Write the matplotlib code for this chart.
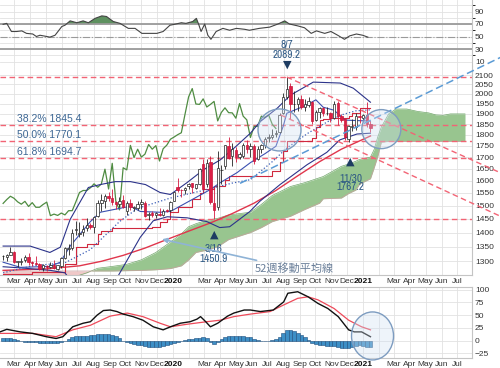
import matplotlib
matplotlib.use("Agg")
import numpy as np
import pandas as pd
import matplotlib.pyplot as plt
import matplotlib.dates as mdates
import matplotlib.transforms as mtransforms
from matplotlib import font_manager
from matplotlib.font_manager import FontProperties
from matplotlib.patches import Ellipse
from matplotlib.ticker import FixedLocator, NullLocator, FuncFormatter

plt.rcParams['font.family'] = ['Liberation Sans', 'DejaVu Sans']

# upright narrow face for the high/low call-outs, if the system has one
narrow = [f.fname for f in font_manager.fontManager.ttflist
          if 'Narrow' in f.name and f.style == 'normal' and f.weight in (400, 'normal', 'regular')
          and 'Italic' not in f.fname and 'Bold' not in f.fname]
if narrow:
    ann_font = FontProperties(fname=sorted(narrow)[0], size=8)
else:
    ann_font = FontProperties(family=['Liberation Sans', 'DejaVu Sans'], size=7.2)

# ---- weekly candles (week ending Friday) ----
weeks = pd.date_range('2019-02-08', '2021-01-15', freq='W-FRI')
opens = [1317, 1316, 1323, 1333, 1298, 1298, 1303, 1316, 1296, 1296, 1291, 1277, 1285, 1282, 1287, 1276,
         1286, 1312, 1341, 1345, 1409, 1393, 1401, 1415, 1426, 1421, 1459, 1510, 1520, 1540, 1530, 1513,
         1505, 1523, 1478, 1512, 1493, 1492, 1505, 1510, 1464, 1471, 1464, 1466, 1464, 1482, 1484,
         1520, 1573, 1561, 1560, 1578, 1590, 1572, 1586, 1670, 1587, 1678, 1511, 1496, 1643, 1660, 1748,
         1705, 1733, 1700, 1705, 1754, 1734, 1748, 1690, 1738, 1753, 1786, 1790, 1805, 1815, 1903, 1986,
         2040, 1947, 1947, 1975, 1936, 1946, 1960, 1870, 1910, 1930, 1905, 1903, 1880, 1955, 1888, 1873,
         1780, 1838, 1838, 1890, 1881, 1897, 1850]
highs = [1323, 1325, 1349, 1335, 1302, 1311, 1323, 1327, 1301, 1317, 1293, 1290, 1288, 1298, 1305, 1289,
         1313, 1348, 1358, 1411, 1442, 1440, 1427, 1453, 1435, 1460, 1523, 1546, 1546, 1555, 1566, 1519,
         1535, 1541, 1519, 1525, 1500, 1520, 1525, 1518, 1476, 1479, 1475, 1490, 1486, 1489, 1519,
         1553, 1611, 1564, 1574, 1590, 1591, 1587, 1652, 1691, 1693, 1704, 1576, 1728, 1667, 1753, 1788,
         1763, 1747, 1724, 1764, 1775, 1761, 1759, 1751, 1757, 1788, 1806, 1829, 1823, 1906, 2005, 2089.2,
         2055, 2015, 1987, 1994, 1976, 1986, 1963, 1917, 1935, 1933, 1933, 1911, 1966, 1966, 1900, 1876,
         1848, 1875, 1906, 1907, 1900, 1960, 1865]
lows = [1306, 1302, 1321, 1294, 1280, 1288, 1297, 1288, 1284, 1288, 1271, 1267, 1268, 1278, 1274, 1270,
        1277, 1309, 1322, 1337, 1391, 1384, 1387, 1404, 1413, 1400, 1456, 1480, 1492, 1520, 1504, 1486,
        1497, 1490, 1465, 1483, 1480, 1483, 1488, 1456, 1446, 1456, 1453, 1462, 1459, 1475, 1477,
        1517, 1553, 1536, 1547, 1565, 1548, 1564, 1584, 1563, 1576, 1505, 1450.9, 1484, 1588, 1650, 1690,
        1660, 1680, 1693, 1697, 1716, 1702, 1671, 1688, 1717, 1742, 1766, 1781, 1792, 1807, 1900, 1975,
        1874, 1911, 1916, 1922, 1912, 1936, 1851, 1864, 1880, 1890, 1895, 1860, 1877, 1848, 1859, 1775,
        1767.2, 1819, 1825, 1855, 1865, 1835, 1814]
closes = [1318, 1322, 1330, 1299, 1298, 1302, 1313, 1298, 1295, 1290, 1276, 1288, 1281, 1287, 1277, 1289,
          1311, 1346, 1344, 1400, 1413, 1400, 1412, 1427, 1419, 1457, 1509, 1524, 1537, 1529, 1515, 1506,
          1517, 1497, 1512, 1494, 1494, 1505, 1514, 1462, 1468, 1463, 1472, 1465, 1481, 1481, 1515,
          1552, 1560, 1560, 1571, 1587, 1573, 1586, 1648, 1566, 1673, 1516, 1484, 1654, 1645, 1752, 1698,
          1735, 1700, 1713, 1756, 1735, 1751, 1683, 1737, 1753, 1780, 1790, 1801, 1810, 1897, 1985, 2028,
          1949, 1947, 1975, 1934, 1947, 1962, 1866, 1907, 1930, 1906, 1905, 1879, 1951, 1889, 1871, 1788,
          1840, 1840, 1889, 1883, 1895, 1850, 1830]

# ---- overlay lines ----
bb_up_dates = ['2019-02-08', '2019-04-01', '2019-05-09', '2019-05-29', '2019-06-17', '2019-07-22', '2019-08-14',
               '2019-09-12', '2019-10-11', '2019-11-09', '2019-12-07', '2019-12-27', '2020-01-28', '2020-02-29',
               '2020-04-01', '2020-04-30', '2020-05-29', '2020-06-17', '2020-07-20', '2020-08-14', '2020-09-27',
               '2020-11-18', '2020-12-13', '2021-01-15']
bb_up_vals = [1352, 1352, 1330, 1348, 1448, 1572, 1584, 1596, 1596, 1584, 1552, 1544, 1592, 1646,
              1688, 1745, 1808, 1863, 1929, 1994, 2062, 2057, 2030, 1958]
bb_lo_dates = ['2019-02-08', '2019-03-15', '2019-05-10', '2019-06-07', '2019-06-28', '2019-08-16', '2019-09-01',
               '2019-09-17', '2019-10-30', '2019-11-24', '2019-12-21', '2020-01-28', '2020-03-06', '2020-03-31',
               '2020-04-19', '2020-05-28', '2020-06-16', '2020-07-25', '2020-09-15', '2020-10-23', '2020-11-17',
               '2020-12-20', '2021-01-15']
bb_lo_vals = [1282, 1278, 1270, 1262, 1215, 1190, 1200, 1251, 1383, 1443, 1458, 1454, 1440, 1418,
              1421, 1478, 1517, 1584, 1667, 1721, 1777, 1804, 1808]
ma13_dates = ['2019-02-08', '2019-04-05', '2019-06-07', '2019-07-26', '2019-09-20', '2019-10-25', '2019-12-27',
              '2020-02-28', '2020-04-24', '2020-05-29', '2020-07-10', '2020-08-07', '2020-09-18', '2020-10-23',
              '2020-11-20', '2020-12-18', '2021-01-15']
ma13_vals = [1262, 1285, 1295, 1340, 1440, 1490, 1530, 1560, 1590, 1604, 1680, 1740, 1810, 1860,
             1895, 1915, 1920]
tenkan_dates = ['2019-02-08', '2019-03-13', '2019-05-09', '2019-05-29', '2019-06-17', '2019-07-26', '2019-08-14',
                '2019-10-11', '2019-10-30', '2019-12-07', '2019-12-27', '2020-01-28', '2020-03-13', '2020-04-01',
                '2020-05-03', '2020-05-29', '2020-06-26', '2020-07-17', '2020-07-31', '2020-08-07', '2020-09-11',
                '2020-10-02', '2020-10-16', '2020-11-06', '2020-11-27', '2021-01-15']
tenkan_vals = [1297, 1280, 1283, 1297, 1352, 1440, 1475, 1498, 1478, 1475, 1478, 1513, 1564, 1592,
               1633, 1676, 1715, 1748, 1840, 1903, 1940, 1970, 1933, 1918, 1870, 1865]
kijun_dates = ['2019-02-08', '2019-04-05', '2019-06-07', '2019-06-28', '2019-07-19', '2019-08-09', '2019-08-16',
               '2019-09-06', '2019-11-22', '2019-12-06', '2019-12-20', '2019-12-27', '2020-01-10', '2020-02-07',
               '2020-02-21', '2020-02-28', '2020-03-20', '2020-04-10', '2020-04-17', '2020-07-10', '2020-07-24',
               '2020-07-31', '2020-08-07', '2020-09-25', '2020-10-02', '2020-10-09', '2020-10-16', '2020-10-30',
               '2020-12-04', '2020-12-11', '2020-12-25', '2021-01-15']
kijun_vals = [1258, 1266, 1292, 1348, 1360, 1395, 1406, 1416, 1421, 1437, 1451, 1475, 1497, 1528,
              1549, 1568, 1578, 1602, 1620, 1640, 1678, 1728, 1770, 1787, 1838, 1870, 1875, 1880,
              1888, 1903, 1928, 1928]
ma52_dates = ['2019-02-08', '2019-05-03', '2019-07-05', '2019-08-16', '2019-09-27', '2019-11-08', '2019-12-20',
              '2020-01-31', '2020-03-13', '2020-04-24', '2020-06-05', '2020-07-17', '2020-08-28', '2020-10-09',
              '2020-11-20', '2021-01-15']
ma52_vals = [1270, 1275, 1285, 1300, 1320, 1345, 1375, 1405, 1435, 1470, 1510, 1560, 1620, 1680,
             1735, 1795]

# Ichimoku cloud (leading spans, already shifted forward)
cloud_dates = ['2019-02-08', '2019-04-05', '2019-06-07', '2019-07-19', '2019-08-09', '2019-09-06', '2019-10-04',
               '2019-11-01', '2019-11-29', '2019-12-27', '2020-01-17', '2020-01-31', '2020-02-14', '2020-03-06',
               '2020-03-27', '2020-04-17', '2020-05-29', '2020-06-19', '2020-07-10', '2020-08-14', '2020-09-11',
               '2020-10-09', '2020-10-16', '2020-11-20', '2020-12-04', '2020-12-18', '2020-12-25', '2021-01-15',
               '2021-01-22', '2021-01-29', '2021-02-05', '2021-02-19', '2021-03-05', '2021-03-26', '2021-04-16',
               '2021-05-07', '2021-05-21', '2021-06-04', '2021-06-18', '2021-07-16']
span_a = [1252, 1232, 1239, 1262, 1277, 1283, 1290, 1305, 1330, 1366, 1395, 1421, 1432, 1445,
          1452, 1465, 1475, 1505, 1540, 1576, 1592, 1612, 1617, 1660, 1670, 1682, 1690, 1700,
          1733, 1790, 1837, 1900, 1924, 1924, 1912, 1905, 1895, 1893, 1900, 1900]
span_b = [1268, 1268, 1268, 1268, 1268, 1268, 1269, 1270, 1272, 1276, 1285, 1305, 1330, 1338,
          1350, 1375, 1400, 1418, 1440, 1460, 1486, 1510, 1527, 1530, 1548, 1562, 1586, 1608,
          1653, 1702, 1767, 1770, 1770, 1770, 1770, 1770, 1770, 1770, 1770, 1770]

fib_levels = [2089.2, 1845.4, 1770.1, 1694.7, 1450.9]
fib_labels = {1845.4: '38.2% 1845.4', 1770.1: '50.0% 1770.1', 1694.7: '61.8% 1694.7'}

# ---- RSI ----
rsi_dates = ['2019-02-08', '2019-02-15', '2019-02-24', '2019-03-06', '2019-03-16', '2019-03-25', '2019-04-06',
             '2019-04-13', '2019-04-20', '2019-05-03', '2019-05-09', '2019-05-19', '2019-06-01', '2019-06-07',
             '2019-06-17', '2019-06-30', '2019-07-12', '2019-07-22', '2019-08-04', '2019-08-17', '2019-08-26',
             '2019-09-08', '2019-09-21', '2019-10-07', '2019-10-20', '2019-11-02', '2019-11-18', '2019-12-01',
             '2019-12-13', '2019-12-26', '2020-01-04', '2020-01-17', '2020-01-26', '2020-02-08', '2020-02-15',
             '2020-02-20', '2020-02-24', '2020-03-02', '2020-03-08', '2020-03-14', '2020-03-24', '2020-04-06',
             '2020-04-19', '2020-05-02', '2020-05-18', '2020-05-27', '2020-06-15', '2020-07-05', '2020-07-21',
             '2020-08-03', '2020-08-12', '2020-08-28', '2020-09-10', '2020-09-23', '2020-10-03', '2020-10-19',
             '2020-10-31', '2020-11-13', '2020-11-26', '2020-12-06', '2020-12-19', '2020-12-31', '2021-01-10']
rsi_vals = [69.5, 71, 58, 58, 59, 55, 54, 50, 52, 50, 49, 52, 66, 68, 75, 72, 75, 72, 79, 83, 82, 74, 71,
            63, 63, 55, 55, 55, 58, 68, 69.5, 72, 71, 74, 79, 68, 58, 70, 52, 45.5, 58, 63, 60, 63,
            61.5, 60, 63, 65, 70, 75, 70, 67, 64, 55, 59, 55, 58, 52, 45.5, 51, 54, 52, 49]

# ---- MACD ----
macd_dates = ['2019-02-02', '2019-02-15', '2019-03-13', '2019-04-06', '2019-05-02', '2019-05-21', '2019-06-03',
              '2019-06-22', '2019-07-12', '2019-07-26', '2019-08-08', '2019-08-20', '2019-09-02', '2019-09-15',
              '2019-09-27', '2019-10-16', '2019-11-04', '2019-11-24', '2019-12-13', '2019-12-27', '2020-01-15',
              '2020-02-03', '2020-02-16', '2020-02-23', '2020-03-04', '2020-03-13', '2020-03-27', '2020-04-15',
              '2020-04-27', '2020-05-17', '2020-05-29', '2020-06-17', '2020-07-12', '2020-08-01', '2020-08-09',
              '2020-08-28', '2020-09-17', '2020-10-06', '2020-10-25', '2020-11-14', '2020-12-04', '2020-12-15',
              '2020-12-29', '2021-01-15']
macd_vals = [17, 22, 17, 14, 7.5, 4, 7.5, 27, 34, 37, 50, 59, 60, 57, 52, 47, 40, 27, 21, 27, 34, 37, 42,
             47, 37, 27, 34, 48, 54, 60, 60, 57, 60, 76, 93, 96, 86, 73, 63, 47, 21, 17, 17, 7.5]
signal_dates = ['2019-02-02', '2019-04-06', '2019-05-21', '2019-06-22', '2019-07-26', '2019-09-02', '2019-10-05',
                '2019-11-04', '2019-12-07', '2019-12-27', '2020-01-28', '2020-03-06', '2020-04-01', '2020-04-27',
                '2020-05-29', '2020-07-06', '2020-08-01', '2020-08-28', '2020-09-17', '2020-10-06', '2020-11-06',
                '2020-12-04', '2020-12-29', '2021-01-15']
signal_vals = [14, 14, 7.5, 21, 30, 48, 54, 47, 34, 27, 32, 37, 40, 47, 52, 57, 70, 83, 86, 80, 63, 40, 27, 21]
hist_vals = [5, 5, 4, 3, 1, -1, -2, -3, -3, -3, -4, -4, -4, -5, -5, -4, -2, 0, 3, 6, 8, 8, 9, 9,
             10, 11, 12, 13, 13, 12, 10, 8, 4, 0, -3, -5, -7, -8, -9, -10, -12, -13, -13, -12,
             -11, -9, -7, -4, -2, 0, 2, 3, 3, 4, 4, 6, 4, -2, -6, -3, 3, 6, 8, 9, 9, 8, 8, 7,
             6, 3, 1, 0, -1, 0, 1, 3, 7, 14, 20, 21, 19, 15, 11, 6, 1, -4, -6, -8, -9, -10, -11, -11,
             -13, -14, -15, -14, -12, -10, -9, -11, -13, -13]

# ---- figure ----
W, H = 500, 368
fig = plt.figure(figsize=(W / 100, H / 100), dpi=100)


def box(l, t, r, b):
    return [l / W, 1 - b / H, (r - l) / W, (b - t) / H]


ax_r = fig.add_axes(box(0, 0, 471.5, 66))
ax = fig.add_axes(box(0, 66, 471.5, 275))
ax_m = fig.add_axes(box(0, 287, 471.5, 358))

D = pd.to_datetime
x0, x1 = D('2019-02-02'), D('2021-07-28 12:00')
months = pd.date_range('2019-03-01', '2021-07-01', freq='MS')
mlabels = [str(m.year) if m.month == 1 else ('' if m.month == 2 else m.strftime('%b')) for m in months]

grid_c = '#e2e2e2'
for a in (ax_r, ax, ax_m):
    a.set_xlim(x0, x1)
    a.set_xticks(months)
    a.grid(True, color=grid_c, lw=0.6)
    a.set_axisbelow(True)
    a.yaxis.tick_right()
    a.tick_params(axis='y', length=0, pad=2.5, labelsize=6, labelcolor='#333333')
    a.tick_params(axis='x', length=0, pad=2, labelsize=6, labelcolor='#333333')
    for s in a.spines.values():
        s.set_color('#c4c4c4')
        s.set_linewidth(0.8)
    a.spines['left'].set_visible(False)
ax_r.spines['bottom'].set_visible(False)
ax.spines['top'].set_visible(False)
ax_r.spines['top'].set_visible(False)
ax_r.set_xticklabels([])
for a in (ax, ax_m):
    a.set_xticklabels(mlabels)
    for t in a.get_xticklabels():
        if t.get_text().isdigit():
            t.set_fontweight('bold')
            t.set_color('#111111')

# ---- RSI panel ----
rd = D(rsi_dates)
rv = np.array(rsi_vals)
ax_r.set_ylim(2.8, 108.4)
ax_r.set_yticks([10, 30, 50, 70, 90])
ax_r.set_yticks([20, 40, 60, 80, 100], minor=True)
ax_r.grid(True, which='minor', axis='y', color=grid_c, lw=0.6)
ax_r.axhline(70, color='#9a9a9a', lw=1.3)
ax_r.axhline(30, color='#9a9a9a', lw=1.3)
ax_r.axhline(50, color='#9a9a9a', lw=0.8, ls='-.')
ax_r.fill_between(rd, rv, 70, where=rv > 70, interpolate=True, color='#5e9160', lw=0)
ax_r.plot(rd, rv, color='#444444', lw=0.8)

# ---- main panel ----
ax.set_yscale('log')
ax.set_ylim(1255, 2149.3)
ax.yaxis.set_major_locator(FixedLocator(np.arange(1300, 2101, 50)))
ax.yaxis.set_minor_locator(NullLocator())
ax.yaxis.set_major_formatter(FuncFormatter(lambda v, p: f'{v:.0f}'))

cd = D(cloud_dates)
sa, sb = np.array(span_a, float), np.array(span_b, float)
ax.fill_between(cd, sa, sb, where=sa >= sb, interpolate=True, color='#98c58f', lw=0, zorder=1)
ax.fill_between(cd, sa, sb, where=sa < sb, interpolate=True, color='#f0c8c8', lw=0, zorder=1)
ax.plot(cd, sa, color='#72a86c', lw=0.5, zorder=1)
ax.plot(cd, sb, color='#c9a0a0', lw=0.5, zorder=1)

for lv in fib_levels:
    ax.axhline(lv, color='#f26475', lw=1.0, ls=(0, (4, 2.5)), zorder=2)

ax.plot(weeks[:-26], closes[26:], color='#4f8c42', lw=0.9, zorder=3)
ax.plot(D(ma52_dates), ma52_vals, color='#e0364c', lw=1.0, zorder=3)
ax.plot(D(kijun_dates), kijun_vals, color='#d0283e', lw=0.8, drawstyle='steps-post', zorder=3)
ax.plot(D(bb_up_dates), bb_up_vals, color='#2c338a', lw=0.8, zorder=3)
ax.plot(D(bb_lo_dates), bb_lo_vals, color='#2c338a', lw=0.8, zorder=3)
ax.plot(D(tenkan_dates), tenkan_vals, color='#3a4fb0', lw=0.8, zorder=3)
ax.plot(D(ma13_dates), ma13_vals, color='#3d5fb8', lw=0.9, ls=':', zorder=3)

# candles
xn = mdates.date2num(weeks)
o, h, l, c = map(np.array, (opens, highs, lows, closes))
up = c >= o
body_lo = np.minimum(o, c)
body_h = np.maximum(np.abs(c - o), 1.5)
ax.vlines(xn, l, h, colors=np.where(up, '#222222', '#d41a3f'), lw=0.6, zorder=4)
ax.bar(xn, body_h, bottom=body_lo, width=4.6, color=np.where(up, 'white', '#dc1f45'),
       edgecolor=np.where(up, '#222222', '#c8163a'), lw=0.5, zorder=5)

# trend lines (extend past the plot area)
ax.plot(D(['2020-08-07', '2021-09-22']), [2089.2, 1633], color='#f26475', lw=1.0,
        ls=(0, (4, 2.5)), clip_on=False, zorder=6)
ax.plot(D(['2020-07-26', '2021-09-22']), [1895, 1460], color='#f26475', lw=1.0,
        ls=(0, (4, 2.5)), clip_on=False, zorder=6)
ax.plot(D(['2020-05-09', '2021-09-22']), [1589, 2197], color='#5b9bd5', lw=1.1,
        ls=(0, (5, 2.5)), clip_on=False, zorder=6)

# fibonacci labels
for lv, txt in fib_labels.items():
    ax.annotate(txt, xy=(D('2019-03-07'), lv), xytext=(0, 1), textcoords='offset points',
                ha='left', va='bottom', fontsize=7.5, color='#3d6794', zorder=7)

# highs / lows
acol = '#2d5884'
tri = dict(textcoords='offset points', ha='center', va='center', fontsize=8, color='#1e3c62',
           family=['DejaVu Sans'], zorder=7, annotation_clip=False)
lab = dict(textcoords='offset points', ha='center', va='center', fontproperties=ann_font, color=acol,
           zorder=7, annotation_clip=False)
pk = weeks[78]
ax.annotate('\u25bc', xy=(pk, 2089.2), xytext=(0, 8.6), **tri)
ax.annotate('2089.2', xy=(pk, 2089.2), xytext=(0, 15.5), **lab)
ax.annotate('8/7', xy=(pk, 2089.2), xytext=(0, 23.5), **lab)
lo1 = weeks[58]
ax.annotate('\u25b2', xy=(lo1, 1450.9), xytext=(0, -11.5), **tri)
ax.annotate('3/16', xy=(lo1, 1450.9), xytext=(0, -21.5), **lab)
ax.annotate('1450.9', xy=(lo1, 1450.9), xytext=(0, -29), **lab)
lo2 = weeks[95]
ax.annotate('\u25b2', xy=(lo2, 1767.2), xytext=(1.5, -14.4), **tri)
ax.annotate('11/30', xy=(lo2, 1767.2), xytext=(1.5, -26), **lab)
ax.annotate('1767.2', xy=(lo2, 1767.2), xytext=(1.5, -32.5), **lab)

ax.annotate('52週移動平均線', xy=(D('2019-12-11'), 1376), xytext=(D('2020-06-07'), 1275),
            ha='left', va='center', fontsize=8, color='#6a7f99', family=['Noto Sans CJK JP'],
            arrowprops=dict(arrowstyle='-|>', color='#8fb3d6', lw=1.2, mutation_scale=7,
                            shrinkA=1, shrinkB=0), zorder=7)


def ring(a, xd, yd, w, hgt):
    tr = fig.dpi_scale_trans + mtransforms.ScaledTranslation(mdates.date2num(D(xd)), yd, a.transData)
    a.add_patch(Ellipse((0, 0), w, hgt, transform=tr, facecolor='#cfe0f2', alpha=0.35,
                        edgecolor='none', zorder=8, clip_on=False))
    a.add_patch(Ellipse((0, 0), w, hgt, transform=tr, facecolor='none',
                        edgecolor='#7d9cc0', lw=1.0, zorder=8, clip_on=False))


ring(ax, '2020-07-24', 1823, 0.43, 0.42)
ring(ax, '2021-02-05', 1827, 0.39, 0.39)

# ---- MACD panel ----
ax_m.set_ylim(-34.4, 105.3)
ax_m.set_yticks([-25, 0, 25, 50, 75, 100])
ax_m.bar(xn, hist_vals, width=7, color='#3d8fc6', edgecolor='#1f4f7e', lw=0.4, zorder=2)
ax_m.plot(D(signal_dates), signal_vals, color='#ee4a5a', lw=0.9, zorder=3)
ax_m.plot(D(macd_dates), macd_vals, color='#111111', lw=1.0, zorder=3)
ring(ax_m, '2021-01-19', 9, 0.42, 0.48)

fig.savefig('out.png', dpi=100)
